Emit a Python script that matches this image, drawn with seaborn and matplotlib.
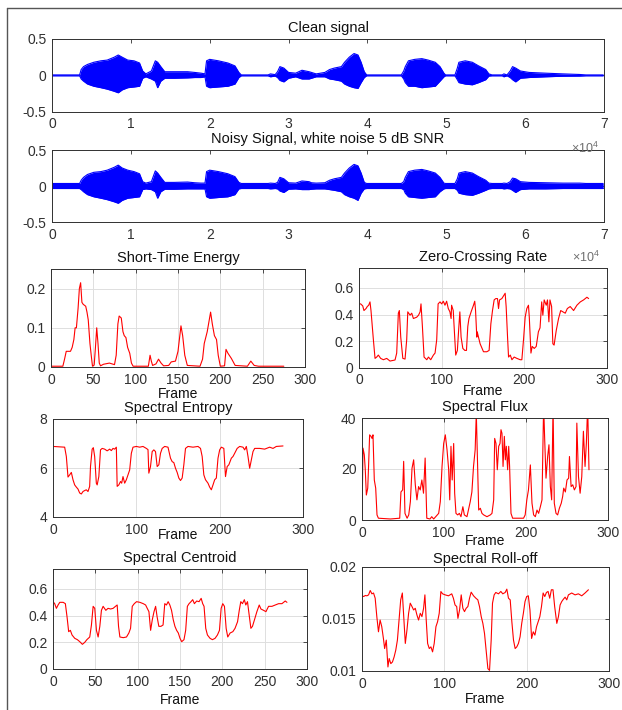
import numpy as np
import pandas as pd
import matplotlib
matplotlib.use('Agg')
import matplotlib.pyplot as plt
from matplotlib.lines import Line2D
import seaborn as sns

sns.set_style('white')
plt.rcParams['font.family'] = ['Liberation Sans', 'DejaVu Sans']
plt.rcParams['mathtext.fontset'] = 'custom'
plt.rcParams['mathtext.rm'] = 'Liberation Sans'

# --- waveform envelopes: (x in 1e4 samples, upper, lower)
clean_env = [
    (0, 0.006, -0.006), (0.35, 0.006, -0.006), (0.37, 0.08, -0.05), (0.40, 0.12, -0.08),
    (0.45, 0.15, -0.12), (0.53, 0.18, -0.15), (0.62, 0.2, -0.17), (0.70, 0.21, -0.19),
    (0.79, 0.25, -0.22), (0.84, 0.28, -0.24), (0.89, 0.25, -0.2), (0.96, 0.21, -0.17),
    (1.04, 0.2, -0.16), (1.11, 0.17, -0.15), (1.15, 0.06, -0.04), (1.19, 0.02, -0.02),
    (1.26, 0.06, -0.05), (1.31, 0.2, -0.08), (1.34, 0.18, -0.17), (1.38, 0.12, -0.08),
    (1.43, 0.05, -0.04), (1.55, 0.05, -0.04), (1.72, 0.05, -0.035), (1.81, 0.04, -0.03),
    (1.89, 0.03, -0.03), (1.94, 0.02, -0.02), (1.96, 0.2, -0.15), (2.0, 0.22, -0.17),
    (2.11, 0.2, -0.16), (2.23, 0.17, -0.15), (2.32, 0.13, -0.12), (2.37, 0.04, -0.03),
    (2.40, 0.006, -0.006), (2.74, 0.006, -0.006), (2.77, 0.02, -0.02), (2.83, 0.01, -0.01),
    (2.86, 0.05, -0.03), (2.89, 0.12, -0.07), (2.94, 0.1, -0.09), (3.0, 0.04, -0.04),
    (3.09, 0.03, -0.02), (3.17, 0.07, -0.05), (3.26, 0.05, -0.05), (3.29, 0.04, -0.04),
    (3.35, 0.02, -0.02), (3.46, 0.04, -0.02), (3.52, 0.08, -0.05), (3.58, 0.1, -0.06),
    (3.67, 0.12, -0.08), (3.71, 0.18, -0.12), (3.77, 0.25, -0.15), (3.83, 0.3, -0.17),
    (3.88, 0.28, -0.18), (3.92, 0.18, -0.1), (3.96, 0.05, -0.03), (3.99, 0.006, -0.006),
    (4.43, 0.006, -0.006), (4.46, 0.06, -0.05), (4.48, 0.12, -0.1), (4.52, 0.2, -0.15),
    (4.6, 0.22, -0.15), (4.69, 0.23, -0.17), (4.77, 0.21, -0.16), (4.86, 0.18, -0.15),
    (4.92, 0.12, -0.08), (4.97, 0.03, -0.02), (4.99, 0.006, -0.006), (5.11, 0.006, -0.006),
    (5.14, 0.1, -0.06), (5.16, 0.18, -0.1), (5.24, 0.2, -0.12), (5.33, 0.18, -0.13),
    (5.41, 0.13, -0.1), (5.5, 0.08, -0.06), (5.54, 0.02, -0.01), (5.58, 0.006, -0.006),
    (5.71, 0.006, -0.006), (5.73, 0.02, -0.02), (5.77, 0.006, -0.006), (5.81, 0.06, -0.03),
    (5.84, 0.12, -0.06), (5.88, 0.1, -0.09), (5.94, 0.06, -0.04), (6.05, 0.04, -0.03),
    (6.26, 0.03, -0.02), (6.48, 0.02, -0.012), (6.69, 0.012, -0.01), (6.77, 0.006, -0.006),
    (6.99, 0.006, -0.006)]

noisy_env = [
    (0, 0.035, -0.035), (0.35, 0.035, -0.035), (0.37, 0.08, -0.05), (0.40, 0.12, -0.08),
    (0.45, 0.16, -0.12), (0.53, 0.19, -0.15), (0.62, 0.2, -0.17), (0.70, 0.22, -0.19),
    (0.79, 0.26, -0.22), (0.84, 0.29, -0.24), (0.89, 0.25, -0.2), (0.96, 0.22, -0.17),
    (1.04, 0.2, -0.16), (1.11, 0.17, -0.15), (1.15, 0.06, -0.05), (1.19, 0.04, -0.04),
    (1.26, 0.06, -0.05), (1.31, 0.21, -0.08), (1.34, 0.18, -0.17), (1.38, 0.12, -0.08),
    (1.43, 0.05, -0.045), (1.55, 0.05, -0.045), (1.72, 0.055, -0.04), (1.81, 0.045, -0.04),
    (1.89, 0.04, -0.04), (1.94, 0.04, -0.04), (1.96, 0.2, -0.15), (2.0, 0.22, -0.17),
    (2.11, 0.2, -0.16), (2.23, 0.17, -0.15), (2.32, 0.13, -0.12), (2.37, 0.05, -0.04),
    (2.40, 0.035, -0.035), (2.74, 0.035, -0.035), (2.77, 0.04, -0.04), (2.83, 0.035, -0.035),
    (2.86, 0.05, -0.04), (2.89, 0.12, -0.07), (2.94, 0.1, -0.09), (3.0, 0.045, -0.045),
    (3.09, 0.04, -0.04), (3.17, 0.07, -0.05), (3.26, 0.06, -0.05), (3.29, 0.045, -0.045),
    (3.35, 0.04, -0.04), (3.46, 0.045, -0.04), (3.52, 0.08, -0.05), (3.58, 0.1, -0.06),
    (3.67, 0.12, -0.08), (3.71, 0.18, -0.12), (3.77, 0.25, -0.15), (3.83, 0.3, -0.17),
    (3.88, 0.28, -0.2), (3.92, 0.18, -0.1), (3.96, 0.05, -0.04), (3.99, 0.035, -0.035),
    (4.43, 0.035, -0.035), (4.46, 0.06, -0.05), (4.48, 0.12, -0.1), (4.52, 0.2, -0.15),
    (4.6, 0.22, -0.16), (4.69, 0.23, -0.17), (4.77, 0.21, -0.16), (4.86, 0.18, -0.15),
    (4.92, 0.12, -0.08), (4.97, 0.04, -0.04), (4.99, 0.035, -0.035), (5.11, 0.035, -0.035),
    (5.14, 0.1, -0.06), (5.16, 0.18, -0.1), (5.24, 0.2, -0.12), (5.33, 0.18, -0.13),
    (5.41, 0.13, -0.1), (5.5, 0.08, -0.06), (5.54, 0.04, -0.04), (5.58, 0.035, -0.035),
    (5.71, 0.035, -0.035), (5.73, 0.04, -0.04), (5.77, 0.035, -0.035), (5.81, 0.06, -0.04),
    (5.84, 0.11, -0.06), (5.88, 0.1, -0.09), (5.94, 0.06, -0.05), (6.05, 0.05, -0.04),
    (6.26, 0.045, -0.04), (6.48, 0.04, -0.035), (6.69, 0.04, -0.035), (6.77, 0.035, -0.035),
    (6.99, 0.035, -0.035)]

# --- frame features: (frame, value)
ste = [
    (0, 0.002), (14, 0.002), (16, 0.02), (18, 0.04), (23, 0.04), (25, 0.05), (27, 0.07),
    (28.5, 0.1), (30, 0.1), (32, 0.15), (33.5, 0.2), (35, 0.215), (36.5, 0.165), (38, 0.16),
    (41, 0.155), (42.5, 0.14), (44, 0.12), (46, 0.06), (47.5, 0.03), (49, 0.002), (51, 0.005),
    (52.5, 0.05), (54, 0.1), (55.5, 0.06), (57, 0.01), (58.5, 0.003), (62, 0.007), (69, 0.01),
    (75, 0.006), (77, 0.03), (79, 0.11), (80.5, 0.13), (83, 0.125), (85, 0.09), (86.5, 0.08),
    (88.5, 0.075), (90.5, 0.05), (93, 0.035), (95, 0.01), (97, 0.002), (115, 0.002),
    (117, 0.03), (118.5, 0.015), (120, 0.004), (124, 0.008), (127, 0.02), (130, 0.01),
    (133, 0.003), (139, 0.004), (142, 0.013), (147, 0.015), (150, 0.04), (153.5, 0.105),
    (155.5, 0.08), (158, 0.03), (161, 0.004), (176, 0.002), (179, 0.02), (181, 0.06),
    (184.5, 0.09), (188.5, 0.14), (190.5, 0.11), (193, 0.08), (195.5, 0.07), (197.5, 0.03),
    (200, 0.002), (205, 0.003), (206.7, 0.045), (209, 0.035), (213, 0.022), (217.5, 0.004),
    (232, 0.002), (236, 0.015), (240, 0.004), (245, 0.002), (275, 0.002)]

zcr = [
    (0, 0.48), (2, 0.48), (4.5, 0.465), (6, 0.43), (8.5, 0.445), (10, 0.46), (11.7, 0.47),
    (13.3, 0.495), (14.5, 0.43), (17.4, 0.21), (19.4, 0.07), (21.4, 0.08), (23.4, 0.095),
    (26.2, 0.07), (29.5, 0.06), (33.5, 0.07), (37.5, 0.05), (43.6, 0.058), (45.6, 0.11),
    (47.6, 0.41), (48.8, 0.43), (50.5, 0.23), (53, 0.07), (55.7, 0.065), (57.7, 0.21),
    (59, 0.42), (61.8, 0.395), (63.8, 0.41), (65.8, 0.37), (69.8, 0.38), (72, 0.395),
    (73.9, 0.42), (75, 0.48), (76.7, 0.31), (78.7, 0.08), (82, 0.06), (84, 0.08),
    (86.8, 0.06), (90, 0.095), (92, 0.11), (94, 0.21), (95.7, 0.48), (98, 0.495), (100, 0.48),
    (102, 0.5), (104, 0.47), (106, 0.5), (108, 0.445), (110, 0.42), (111.4, 0.37),
    (112, 0.47), (114, 0.43), (115.5, 0.26), (117, 0.095), (119, 0.13), (120.7, 0.3),
    (122, 0.42), (123.5, 0.23), (125.6, 0.145), (128, 0.13), (130, 0.13), (131.6, 0.31),
    (133, 0.37), (135.6, 0.42), (138.5, 0.47), (140, 0.5), (141, 0.43), (142.5, 0.23),
    (143, 0.27), (146.5, 0.18), (150.6, 0.12), (154.6, 0.12), (157.4, 0.13), (159.5, 0.33),
    (161.5, 0.43), (163.5, 0.51), (165.5, 0.52), (167.5, 0.52), (168.8, 0.445), (170, 0.51),
    (172.8, 0.52), (174.8, 0.54), (176.8, 0.56), (178, 0.46), (179.7, 0.23), (180.9, 0.08),
    (183, 0.095), (185, 0.06), (187.7, 0.08), (191, 0.07), (195, 0.06), (197, 0.06),
    (199, 0.21), (201, 0.38), (203, 0.445), (205, 0.47), (206, 0.38), (208, 0.11),
    (209.5, 0.16), (212, 0.145), (214.4, 0.16), (217, 0.27), (219, 0.3), (221, 0.495),
    (222.4, 0.395), (224, 0.51), (226.5, 0.47), (228, 0.51), (229.7, 0.345), (231, 0.51),
    (233, 0.46), (234.5, 0.18), (236, 0.17), (238.6, 0.28), (241.4, 0.37), (244, 0.43),
    (246.7, 0.42), (249.5, 0.41), (252, 0.445), (255.5, 0.46), (259.6, 0.43), (263.6, 0.47),
    (267.7, 0.495), (271.7, 0.51), (275.7, 0.53), (277.8, 0.52)]

entropy = [
    (0, 6.88), (14, 6.85), (16, 6.47), (18, 5.63), (20, 5.72), (22, 5.82), (24, 5.52),
    (26, 5.31), (28, 5.22), (30, 5.14), (32, 4.98), (34, 4.94), (36, 5.04), (38, 5.08),
    (40, 5.11), (42, 5.04), (44, 5.25), (45, 6.06), (47, 6.77), (48.4, 6.83), (50, 6.47),
    (52, 5.38), (53, 5.31), (55, 5.65), (57, 6.74), (59, 6.8), (62, 6.77), (65, 6.7),
    (68, 6.77), (70, 6.71), (72, 6.8), (74, 6.77), (76, 6.85), (77, 5.25), (79, 5.31),
    (81, 5.45), (82.4, 5.38), (84, 5.65), (86, 5.38), (88, 5.52), (90, 5.72), (92, 5.92),
    (94, 6.6), (96, 6.85), (100, 6.88), (104, 6.85), (108, 6.88), (112, 6.8), (114, 6.75),
    (115, 5.79), (117, 6.06), (119, 6.67), (121, 6.74), (123, 6.67), (125, 6.06), (127, 6.13),
    (129, 6.6), (131, 6.8), (134, 6.88), (138, 6.85), (141, 6.4), (143, 6.26), (145, 6.22),
    (147, 5.99), (149, 5.82), (151, 5.59), (153, 5.49), (155, 5.59), (157, 6.13), (159, 6.8),
    (162, 6.88), (168, 6.85), (174, 6.88), (177, 6.8), (179, 6.47), (181, 5.72), (183, 5.52),
    (186, 5.38), (188, 5.22), (190, 5.11), (192, 5.31), (194, 5.52), (196, 5.59), (198, 6.4),
    (200, 6.74), (202, 6.85), (205, 6.8), (207, 5.65), (209, 6.06), (211, 6.13), (214, 6.4),
    (216, 6.47), (218, 6.6), (221, 6.8), (224, 6.88), (228, 6.85), (230, 6.74), (232, 6.88),
    (234, 6.47), (236, 5.99), (238, 6.33), (240, 6.67), (242, 6.8), (248, 6.8), (254, 6.77),
    (260, 6.85), (264, 6.8), (268, 6.88), (276, 6.9)]

flux = [
    (0, 0), (1.2, 28.2), (2.8, 25.6), (4, 19.7), (5.3, 9.8), (7, 12.5), (8, 21), (9.3, 33.4),
    (11, 32.8), (12.2, 32), (13.4, 33.4), (15, 15.7), (16.7, 12.5), (18.3, 2), (20, 0.7),
    (34.6, 0.4), (46, 0.7), (47.5, 11), (49.6, 11.8), (50.8, 23), (52.4, 2.6), (55, 0.7),
    (57, 2), (59, 7.2), (61, 20.3), (63, 23.6), (65, 13.8), (67, 7.9), (69, 13.1), (71, 11.8),
    (73, 15.7), (75, 10.5), (77, 24.3), (79, 0.7), (83, 0.4), (85, 1.3), (87.4, 0.4),
    (93.5, 2.6), (95.5, 7.2), (97.6, 21), (99.6, 30), (101.6, 33.4), (103.7, 27.5),
    (105.7, 19.7), (107, 7.9), (108.5, 28.9), (110, 15.7), (111.8, 30), (113, 10.5),
    (114.6, 2.6), (116.7, 2), (118.7, 2.6), (120.7, 1.3), (123, 5.2), (124.8, 2), (128, 1.3),
    (132, 7.2), (134, 11), (136, 21), (138, 27.5), (139.4, 42), (141, 21), (142.3, 3.9),
    (144.3, 4.6), (146.3, 2.6), (148.4, 2), (152.4, 1.3), (156.5, 2), (158.5, 2.6),
    (160.6, 7.9), (161.8, 32), (163.4, 30), (165, 19.7), (166.7, 28.9), (168.3, 30),
    (169.5, 35.4), (170.7, 34), (172, 21), (173.6, 32.8), (174.8, 23.6), (176, 28.9),
    (177.6, 19.7), (178.9, 28.9), (180, 21), (181.7, 2.6), (183.7, 0.7), (197, 0.7), (199, 2),
    (201, 7.9), (203, 11.8), (205.3, 21.6), (207.3, 6.6), (209.3, 2), (211.4, 1.3),
    (213.4, 3.9), (215.4, 2.6), (217.5, 5.2), (219.5, 7.9), (221.5, 45), (222.8, 31.5),
    (224.4, 16.4), (226.4, 24.9), (228, 29.5), (229.7, 13.1), (231.3, 7.9), (233, 45),
    (234.5, 6.6), (236.6, 2.6), (238.6, 2), (240.7, 4.6), (243, 6.6), (244.7, 9.2),
    (246, 12.5), (248, 11), (250, 15.7), (252, 16.4), (253, 24.9), (255, 13.1), (257, 13.8),
    (259, 11.8), (261, 13.1), (262, 38), (264, 17), (266, 10.5), (268, 17), (270, 34.8),
    (272, 21), (273.6, 30), (275.2, 45), (276.8, 19.7)]

centroid = [
    (0, 0.505), (2, 0.49), (4, 0.455), (6, 0.48), (8, 0.5), (12, 0.5), (14.6, 0.49),
    (16.6, 0.39), (18.5, 0.28), (20.5, 0.29), (22.5, 0.255), (25.7, 0.23), (28.8, 0.22),
    (31.6, 0.205), (34.7, 0.185), (37.5, 0.2), (40, 0.22), (43.4, 0.24), (45.4, 0.33),
    (47.4, 0.47), (49.3, 0.455), (51.3, 0.29), (53.3, 0.24), (55.3, 0.32), (57.2, 0.44),
    (59.2, 0.47), (62.4, 0.44), (65, 0.455), (68, 0.45), (71, 0.455), (73.8, 0.47),
    (75.8, 0.48), (77.4, 0.32), (79, 0.24), (83, 0.235), (86.8, 0.24), (89.6, 0.27),
    (91.6, 0.305), (93.6, 0.47), (96, 0.49), (98.7, 0.505), (102.6, 0.5), (106.6, 0.49),
    (109.4, 0.48), (111.3, 0.455), (113.3, 0.43), (115.3, 0.29), (117.3, 0.37), (119.3, 0.43),
    (121.2, 0.47), (123, 0.39), (125, 0.32), (127.5, 0.32), (130, 0.33), (132, 0.49),
    (134, 0.48), (136, 0.505), (138, 0.48), (140, 0.44), (142, 0.37), (144, 0.32), (146, 0.29),
    (148, 0.27), (150, 0.23), (152, 0.205), (154.7, 0.22), (156.7, 0.29), (158.7, 0.47),
    (160.7, 0.49), (163, 0.505), (165, 0.52), (167, 0.49), (169.7, 0.51), (172.5, 0.505),
    (175, 0.53), (176.8, 0.49), (178.4, 0.47), (180.4, 0.305), (182.4, 0.255), (185.5, 0.23),
    (188.3, 0.22), (191.4, 0.23), (194.2, 0.255), (196.6, 0.29), (198.6, 0.455), (200.5, 0.49),
    (202.5, 0.47), (204.5, 0.305), (206.4, 0.24), (209.2, 0.27), (212.4, 0.28), (215, 0.305),
    (218, 0.355), (220, 0.44), (221.8, 0.505), (223.8, 0.49), (226, 0.52), (227.7, 0.48),
    (229.7, 0.505), (231.7, 0.405), (233.7, 0.305), (235.6, 0.32), (238, 0.37), (240.8, 0.43),
    (243.6, 0.48), (245.6, 0.45), (248.7, 0.44), (251.5, 0.43), (254.6, 0.47), (258.6, 0.47),
    (262.5, 0.48), (266.5, 0.49), (270.4, 0.49), (274.3, 0.51), (276.3, 0.5)]

rolloff = [
    (0, 0.01723), (2, 0.01716), (4, 0.01726), (6, 0.01723), (8, 0.01732), (10, 0.01774),
    (12, 0.01742), (14, 0.0175), (16, 0.017), (18, 0.01523), (20, 0.01377), (22, 0.0149),
    (24, 0.01426), (26, 0.01313), (27.5, 0.01216), (29.5, 0.01297), (31.5, 0.01039),
    (33, 0.0112), (35, 0.01071), (37, 0.01087), (39, 0.01135), (41, 0.012), (43, 0.01297),
    (45, 0.0149), (47, 0.01684), (49, 0.0175), (51, 0.0149), (52.6, 0.01265), (54.6, 0.01394),
    (56.6, 0.01555), (58.6, 0.01652), (60.7, 0.0162), (62.7, 0.01587), (64.7, 0.01603),
    (66.7, 0.01539), (68.7, 0.0149), (70.8, 0.01555), (72.8, 0.01523), (74.8, 0.01603),
    (76.4, 0.01732), (78, 0.0149), (79.7, 0.01265), (81.7, 0.01216), (83.7, 0.01232),
    (85.7, 0.01184), (87.7, 0.01265), (89.8, 0.01426), (91.8, 0.01474), (93.8, 0.01555),
    (95.8, 0.01764), (97.9, 0.01742), (101, 0.01732), (105, 0.01723), (109, 0.01742),
    (111, 0.017), (113, 0.01635), (115, 0.0162), (116.5, 0.01506), (118.5, 0.01587),
    (120.5, 0.01732), (122.5, 0.01603), (124.5, 0.01571), (126.5, 0.01603), (128.6, 0.0162),
    (130.6, 0.017), (132.6, 0.01758), (135.5, 0.01723), (138.3, 0.017), (140.7, 0.01684),
    (142.7, 0.0162), (144.8, 0.01523), (146.8, 0.01458), (148.8, 0.01361), (150.8, 0.012),
    (152.9, 0.01023), (154.9, 0.01006), (156.9, 0.01297), (158.5, 0.01652), (160.5, 0.01732),
    (162.5, 0.01755), (165.8, 0.01742), (168.6, 0.01765), (171, 0.01742), (173.9, 0.01755),
    (175.9, 0.01787), (177.9, 0.017), (180, 0.01684), (182, 0.01474), (184, 0.01297),
    (186, 0.01216), (188, 0.01232), (190, 0.01265), (192, 0.01329), (194, 0.01458),
    (196, 0.01555), (198, 0.01668), (200, 0.01716), (202, 0.01723), (204, 0.01587),
    (206, 0.01313), (208, 0.01377), (210, 0.01345), (212, 0.01426), (214, 0.01474),
    (216, 0.01523), (218, 0.0162), (220, 0.0175), (222, 0.01716), (224, 0.01755),
    (226, 0.01765), (228, 0.017), (230, 0.01781), (232, 0.01781), (234, 0.0162),
    (236.6, 0.01458), (238.6, 0.01523), (240.6, 0.01635), (242.6, 0.01668), (244.6, 0.0169),
    (246.7, 0.0171), (248.7, 0.01684), (250.7, 0.01732), (254.7, 0.0175), (258.8, 0.01732),
    (262.8, 0.01742), (266.9, 0.01723), (270.9, 0.0175), (275, 0.01781)]

W, H = 622, 710
fig = plt.figure(figsize=(W / 100, H / 100), dpi=100)
fig.patch.set_facecolor('white')

# screenshot frame (left and top edges only)
fig.add_artist(Line2D([6.5 / W, 6.5 / W], [0, 1 - 7.5 / H], color='#555555', lw=1))
fig.add_artist(Line2D([6.5 / W, 1], [1 - 7.5 / H, 1 - 7.5 / H], color='#555555', lw=1))

DARK = '#303030'


def px_axes(x0, y0, x1, y1):
    return fig.add_axes([x0 / W, 1 - y1 / H, (x1 - x0) / W, (y1 - y0) / H])


def style(ax, grid):
    for s in ax.spines.values():
        s.set_color(DARK)
        s.set_linewidth(0.7)
        s.set_visible(True)
    ax.tick_params(direction='in', top=True, right=True, length=3, width=0.6,
                   labelsize=10, colors=DARK, pad=4)
    ax.set_facecolor('white')
    if grid:
        ax.grid(True, color='#dedede', linewidth=0.7)
        ax.set_axisbelow(True)
    ax.set_ylabel('')


def wave(ax, env, title):
    df = pd.DataFrame(env, columns=['x', 'up', 'lo'])
    df['x'] = df['x'] * 1e4
    ax.fill_between(df['x'], df['lo'], df['up'], color='#0000ff', lw=0)
    sns.lineplot(data=df, x='x', y='up', ax=ax, color='#0000ff', lw=0.8, estimator=None)
    sns.lineplot(data=df, x='x', y='lo', ax=ax, color='#0000ff', lw=0.8, estimator=None)
    ax.set_xlim(0, 7e4)
    ax.set_ylim(-0.5, 0.5)
    ax.set_xticks(np.arange(0, 8) * 1e4)
    ax.set_xticklabels([str(i) for i in range(8)])
    ax.set_yticks([-0.5, 0, 0.5])
    ax.set_yticklabels(['-0.5', '0', '0.5'])
    style(ax, grid=False)
    ax.set_xlabel('')
    ax.set_title(title, fontsize=10.5, color='#111111', pad=5)


def feature(ax, pts, title, xticks, ylim, yticks, ylabels, labelpad, tpad=5):
    df = pd.DataFrame(pts, columns=['frame', 'value'])
    sns.lineplot(data=df, x='frame', y='value', ax=ax, color='#ff0000', lw=0.8, estimator=None)
    ax.set_xlim(0, 300)
    ax.set_xticks(xticks)
    ax.set_ylim(*ylim)
    ax.set_yticks(yticks)
    ax.set_yticklabels(ylabels)
    style(ax, grid=True)
    ax.set_xlabel('Frame', fontsize=10, color='#111111', labelpad=labelpad)
    ax.set_title(title, fontsize=10.5, color='#111111', pad=tpad)


ax1 = px_axes(52, 39, 604, 111.7)
wave(ax1, clean_env, 'Clean signal')
ax2 = px_axes(52, 150, 604, 222)
wave(ax2, noisy_env, 'Noisy Signal, white noise 5 dB SNR')

exp_label = r'$\times\mathregular{10^{4}}$'
fig.text(571 / W, 1 - 148 / H, exp_label, fontsize=9, color='#707070', va='center')
fig.text(572 / W, 1 - 257 / H, exp_label, fontsize=9, color='#707070', va='center')

x50 = [0, 50, 100, 150, 200, 250, 300]
x100 = [0, 100, 200, 300]

ax3 = px_axes(51, 269, 305, 367)
feature(ax3, ste, 'Short-Time Energy', x50, (0, 0.25), [0, 0.1, 0.2], ['0', '0.1', '0.2'], 0)
ax4 = px_axes(359, 268, 607, 367.7)
feature(ax4, zcr, 'Zero-Crossing Rate', x100, (0, 0.75), [0, 0.2, 0.4, 0.6],
        ['0', '0.2', '0.4', '0.6'], -2)
ax5 = px_axes(53, 419, 303, 517)
feature(ax5, entropy, 'Spectral Entropy', x100, (4, 8), [4, 6, 8], ['4', '6', '8'], -6)
ax6 = px_axes(362, 418, 608, 520)
feature(ax6, flux, 'Spectral Flux', x100, (0, 40), [0, 20, 40], ['0', '20', '40'], -4)
ax7 = px_axes(53, 569, 307, 669)
feature(ax7, centroid, 'Spectral Centroid', x50, (0, 0.75), [0, 0.2, 0.4, 0.6],
        ['0', '0.2', '0.4', '0.6'], 3)
ax8 = px_axes(362, 567, 609, 671)
feature(ax8, rolloff, 'Spectral Roll-off', x100, (0.01, 0.02), [0.01, 0.015, 0.02],
        ['0.01', '0.015', '0.02'], 1, tpad=3)

fig.savefig('out.png', dpi=100, facecolor='white')
